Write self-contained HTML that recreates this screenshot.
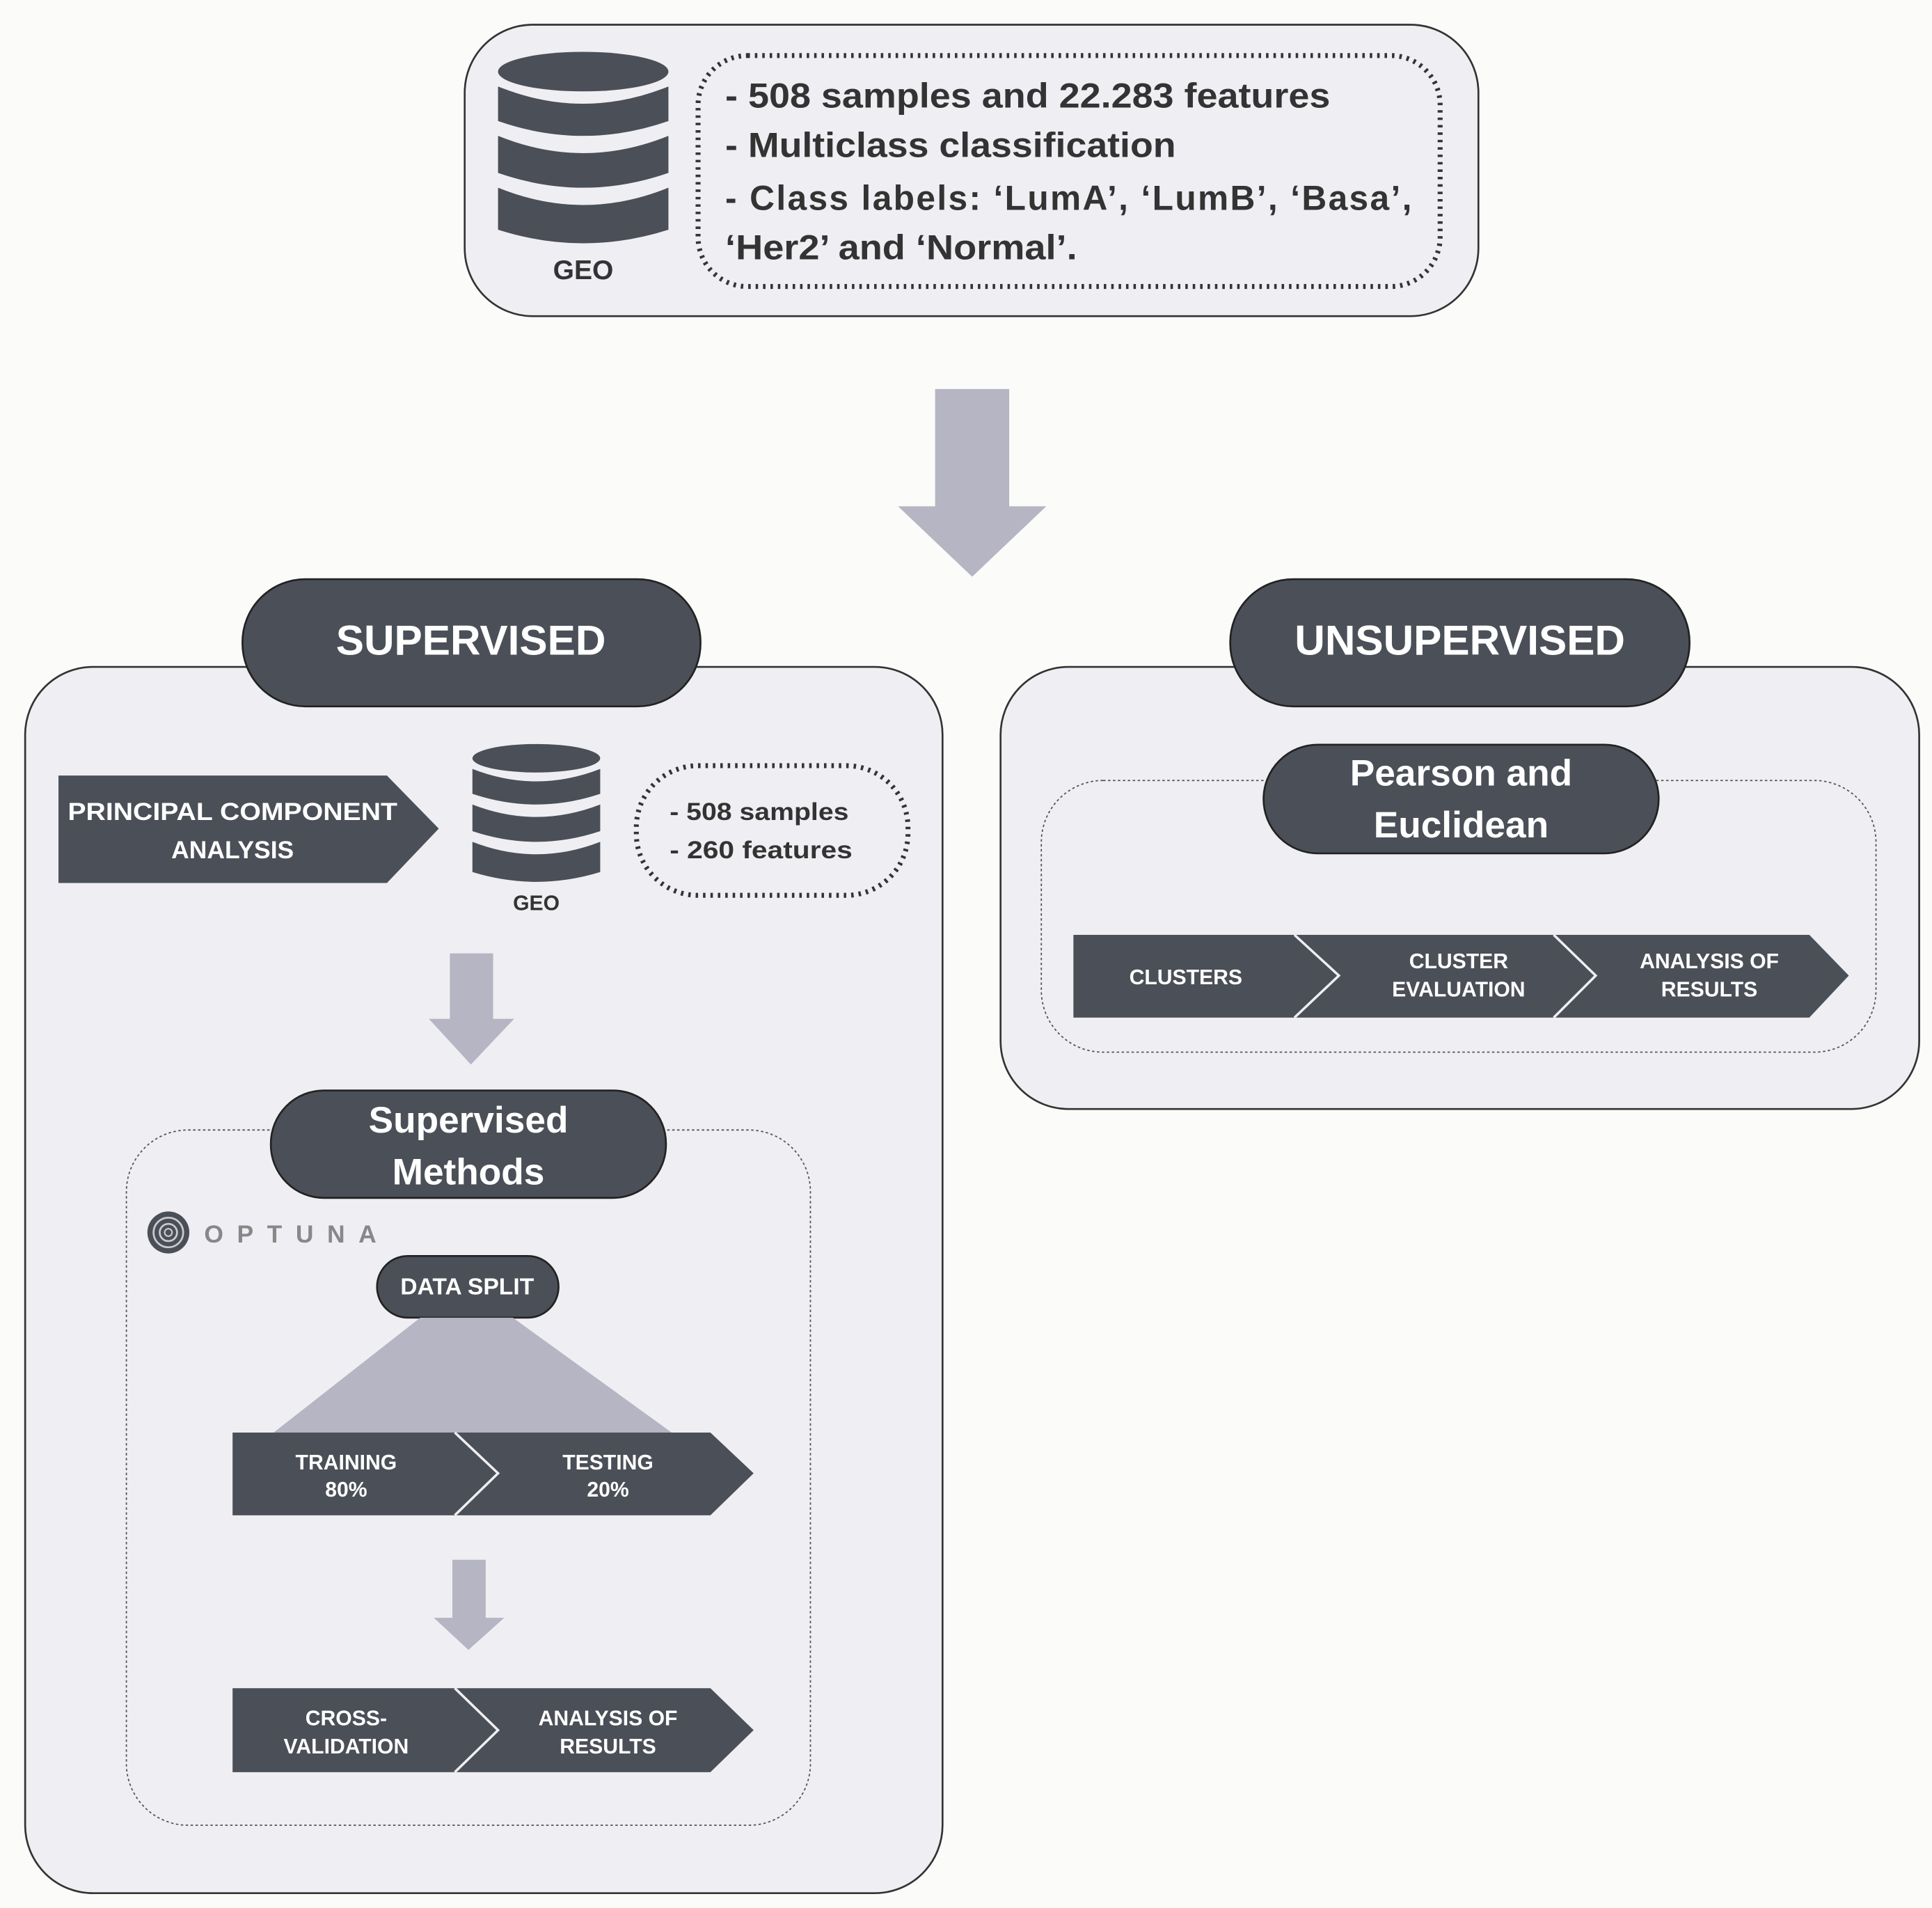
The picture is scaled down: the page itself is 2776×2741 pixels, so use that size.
<!DOCTYPE html>
<html><head><meta charset="utf-8"><style>
html,body{margin:0;padding:0;background:#fbfbf9;}
svg{display:block;}
text{font-family:"Liberation Sans",sans-serif;font-weight:bold;}
</style></head><body>
<svg width="2776" height="2741" viewBox="0 0 1564 1545" xmlns="http://www.w3.org/2000/svg">
<rect width="1564" height="1545" fill="#fbfbf9"/>
<defs>
<g id="db">
<ellipse cx="0" cy="0" rx="69" ry="16" fill="#4b4f57"/>
<path d="M-69 12 Q0 40 69 12 L69 40 Q0 64 -69 40Z" fill="#4b4f57"/>
<path d="M-69 52 Q0 80 69 52 L69 82 Q0 106 -69 82Z" fill="#4b4f57"/>
<path d="M-69 94 Q0 122 69 94 L69 128 Q0 150 -69 128Z" fill="#4b4f57"/>
</g>
</defs>
<rect x="376" y="20" width="821" height="236" rx="55" fill="#efeef2" stroke="#333" stroke-width="1.5"/>
<use href="#db" transform="translate(472,58)"/>
<text x="472" y="226" font-size="22" fill="#333" text-anchor="middle">GEO</text>
<rect x="565" y="45" width="601" height="187" rx="40" fill="none" stroke="#333" stroke-width="4" stroke-dasharray="2 4"/>
<g font-size="28" fill="#333">
<text x="587" y="87" textLength="490" lengthAdjust="spacingAndGlyphs">- 508 samples and 22.283 features</text>
<text x="587" y="127" textLength="365" lengthAdjust="spacingAndGlyphs">- Multiclass classification</text>
<text x="587" y="170" textLength="556">-  Class  labels:  ‘LumA’,  ‘LumB’,  ‘Basa’,</text>
<text x="587" y="210" textLength="285" lengthAdjust="spacingAndGlyphs">‘Her2’ and ‘Normal’.</text>
</g>
<path d="M757 315 H817 V410 H847 L787 467 L727 410 H757Z" fill="#b5b5c3"/>
<rect x="20" y="540" width="743" height="993" rx="55" fill="#efeef2" stroke="#333" stroke-width="1.5"/>
<rect x="196" y="469" width="371" height="103" rx="51" fill="#4b4f57" stroke="#222" stroke-width="1.5"/>
<text x="381" y="530" font-size="34" fill="#fff" text-anchor="middle">SUPERVISED</text>
<rect x="810" y="540" width="744" height="358" rx="55" fill="#efeef2" stroke="#333" stroke-width="1.5"/>
<rect x="996" y="469" width="372" height="103" rx="51" fill="#4b4f57" stroke="#222" stroke-width="1.5"/>
<text x="1182" y="530" font-size="34" fill="#fff" text-anchor="middle">UNSUPERVISED</text>
<path d="M47 628 H313 L355 671 L313 715 H47Z" fill="#4b4f57"/>
<g font-size="20" fill="#fff" text-anchor="middle">
<text x="188" y="664" textLength="267" lengthAdjust="spacingAndGlyphs">PRINCIPAL COMPONENT</text>
<text x="188" y="695">ANALYSIS</text>
</g>
<use href="#db" transform="translate(434,614) scale(0.75,0.72)"/>
<text x="434" y="737" font-size="17" fill="#333" text-anchor="middle">GEO</text>
<rect x="515" y="620" width="220" height="105" rx="50" fill="none" stroke="#333" stroke-width="4" stroke-dasharray="2 4"/>
<g font-size="20" fill="#333">
<text x="542" y="664" textLength="145" lengthAdjust="spacingAndGlyphs">- 508 samples</text>
<text x="542" y="695" textLength="148" lengthAdjust="spacingAndGlyphs">- 260 features</text>
</g>
<path d="M364 772 H399 V825 H416 L381 862 L347 825 H364Z" fill="#b5b5c3"/>
<rect x="102" y="915" width="554" height="563" rx="50" fill="none" stroke="#555" stroke-width="1" stroke-dasharray="2 2"/>
<rect x="219" y="883" width="320" height="87" rx="43" fill="#4b4f57" stroke="#222" stroke-width="1.5"/>
<g font-size="30" fill="#fff" text-anchor="middle">
<text x="379" y="917">Supervised</text>
<text x="379" y="959">Methods</text>
</g>
<circle cx="136" cy="998" r="17" fill="#4b4f57"/>
<circle cx="136" cy="998" r="12" fill="none" stroke="#ccc" stroke-width="1.5"/>
<circle cx="136" cy="998" r="7" fill="none" stroke="#ccc" stroke-width="1.5"/>
<circle cx="136" cy="998" r="3" fill="none" stroke="#ccc" stroke-width="1.2"/>
<text x="165" y="1006" font-size="20" fill="#888" font-weight="normal" letter-spacing="11">OPTUNA</text>
<rect x="305" y="1017" width="147" height="50" rx="25" fill="#4b4f57" stroke="#222" stroke-width="1.5"/>
<text x="378" y="1048" font-size="19" fill="#fff" text-anchor="middle">DATA SPLIT</text>
<path d="M340 1067 H415 L545 1161 H220Z" fill="#b5b5c3"/>
<path d="M188 1160 H575 L610 1193 L575 1227 H188Z" fill="#4b4f57"/>
<path d="M368 1160 L403 1193 L368 1227" fill="none" stroke="#efeef2" stroke-width="2"/>
<g font-size="17" fill="#fff" text-anchor="middle">
<text x="280" y="1190">TRAINING</text><text x="280" y="1212">80%</text>
<text x="492" y="1190">TESTING</text><text x="492" y="1212">20%</text>
</g>
<path d="M366 1263 H393 V1310 H408 L379 1336 L351 1310 H366Z" fill="#b5b5c3"/>
<path d="M188 1367 H575 L610 1401 L575 1435 H188Z" fill="#4b4f57"/>
<path d="M368 1367 L403 1401 L368 1435" fill="none" stroke="#efeef2" stroke-width="2"/>
<g font-size="17" fill="#fff" text-anchor="middle">
<text x="280" y="1397">CROSS-</text><text x="280" y="1420">VALIDATION</text>
<text x="492" y="1397">ANALYSIS OF</text><text x="492" y="1420">RESULTS</text>
</g>
<rect x="843" y="632" width="676" height="220" rx="50" fill="none" stroke="#555" stroke-width="1" stroke-dasharray="2 2"/>
<rect x="1023" y="603" width="320" height="88" rx="44" fill="#4b4f57" stroke="#222" stroke-width="1.5"/>
<g font-size="30" fill="#fff" text-anchor="middle">
<text x="1183" y="636">Pearson and</text>
<text x="1183" y="678">Euclidean</text>
</g>
<path d="M869 757 H1465 L1497 790 L1465 824 H869Z" fill="#4b4f57"/>
<path d="M1048 757 L1084 790 L1048 824 M1258 757 L1292 790 L1258 824" fill="none" stroke="#efeef2" stroke-width="2"/>
<g font-size="17" fill="#fff" text-anchor="middle">
<text x="960" y="797">CLUSTERS</text>
<text x="1181" y="784">CLUSTER</text><text x="1181" y="807">EVALUATION</text>
<text x="1384" y="784">ANALYSIS OF</text><text x="1384" y="807">RESULTS</text>
</g>
</svg>
</body></html>
